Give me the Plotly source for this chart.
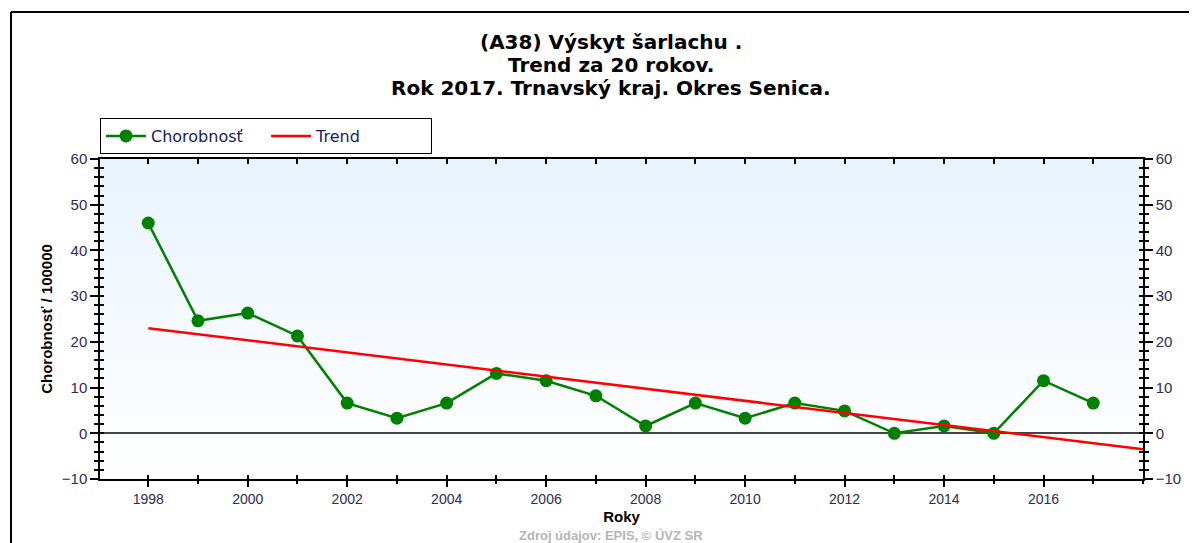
import plotly.graph_objects as go

# ---- data ----
years = list(range(1998, 2018))
chorobnost = [46.0, 24.6, 26.3, 21.3, 6.6, 3.3, 6.6, 13.1, 11.5, 8.2,
              1.6, 6.6, 3.3, 6.6, 4.9, 0.0, 1.6, 0.0, 11.5, 6.6]
trend_years = [1998, 2018]
trend_values = [23.0, -3.5]
x_ticks = list(range(1998, 2017, 2))
y_ticks = list(range(-10, 61, 10))

title_lines = ["(A38) Výskyt šarlachu .", "Trend za 20 rokov.",
               "Rok 2017. Trnavský kraj. Okres Senica."]

X_RANGE = [1997.03, 2018.0]
Y_RANGE = [-10, 60]

FONT = "Liberation Sans, Arial, sans-serif"
WIDE = "DejaVu Sans, Liberation Sans, sans-serif"
TICKCOL = "#2b2b55"

# reference-pixel helpers (plot area spans x 100..1143, y 159..479 on screen)
def px_x(px):
    return (px - 100) / 1043

def px_y(py):
    return 1 + (159 - py) / 320

fig = go.Figure()

fig.add_trace(go.Scatter(
    x=years, y=chorobnost, mode="lines+markers", name="Chorobnosť",
    line=dict(color="#008000", width=2.5),
    marker=dict(color="#008000", size=13, symbol="circle"),
    cliponaxis=False,
))
fig.add_trace(go.Scatter(
    x=trend_years, y=trend_values, mode="lines", name="Trend",
    line=dict(color="#ff0000", width=2.5),
))

# dummy traces so overlay axes get drawn
for xa, ya in [("x2", "y2"), ("x3", "y3"), ("x", "y4")]:
    fig.add_trace(go.Scatter(x=[None], y=[None], xaxis=xa, yaxis=ya,
                             showlegend=False, hoverinfo="skip"))

# gradient plot background
N = 40
shapes = []
for i in range(N):
    t = i / (N - 1)
    r = int(234 + (255 - 234) * t)
    g = int(244 + (255 - 244) * t)
    b = int(254 + (255 - 254) * t)
    shapes.append(dict(type="rect", xref="x domain", yref="y domain",
                       x0=0, x1=1, y0=1 - (i + 1) / N, y1=1 - i / N,
                       fillcolor=f"rgb({r},{g},{b})", line=dict(width=0),
                       layer="below"))
# outer frame (top and left edges; the rest lies outside the picture)
shapes.append(dict(type="line", xref="paper", yref="paper",
                   x0=px_x(11), x1=1.2, y0=px_y(12), y1=px_y(12),
                   line=dict(color="black", width=2)))
shapes.append(dict(type="line", xref="paper", yref="paper",
                   x0=px_x(11), x1=px_x(11), y0=px_y(12), y1=-0.5,
                   line=dict(color="black", width=2)))

common_y = dict(range=Y_RANGE, tickvals=y_ticks, showgrid=False,
                showline=True, linecolor="black", linewidth=1.5,
                tickcolor="black", tickwidth=1.5,
                tickfont=dict(family=FONT, size=15, color=TICKCOL))

fig.update_layout(
    width=1189, height=535,
    margin=dict(l=92, r=54, t=151, b=64),
    paper_bgcolor="white", plot_bgcolor="rgba(0,0,0,0)",
    shapes=shapes,
    showlegend=True,
    legend=dict(orientation="h", x=0, xanchor="left",
                y=px_y(154), yanchor="bottom",
                bordercolor="black", borderwidth=1, bgcolor="white",
                font=dict(family=WIDE, size=16, color="#1a1a5a"),
                entrywidth=110, entrywidthmode="pixels",
                itemwidth=40, tracegroupgap=0),
    xaxis=dict(range=X_RANGE, tickvals=x_ticks, showgrid=False, zeroline=False,
               showline=True, linecolor="black", linewidth=1.5,
               ticks="outside", ticklen=6, tickcolor="black", tickwidth=1.5,
               minor=dict(dtick=1, tick0=1998, ticks="outside", ticklen=3,
                          tickcolor="black", tickwidth=1.5),
               tickfont=dict(family=FONT, size=14, color=TICKCOL),
               title=dict(text="<b>Roky</b>", standoff=6,
                          font=dict(family=FONT, size=15, color="black"))),
    xaxis2=dict(range=X_RANGE, overlaying="x", side="bottom", showgrid=False,
                zeroline=False, showticklabels=False, showline=False,
                ticks="inside", tickvals=years, ticklen=4,
                tickcolor="black", tickwidth=1.5),
    xaxis3=dict(range=X_RANGE, overlaying="x", side="top", showgrid=False,
                zeroline=False, showticklabels=False, showline=True,
                linecolor="black", linewidth=1.5,
                ticks="inside", tickvals=years, ticklen=5,
                tickcolor="black", tickwidth=1.5),
    yaxis=dict(**common_y, side="left", zeroline=True, zerolinecolor="#444444",
               zerolinewidth=1.5, ticks="outside", ticklen=8,
               minor=dict(dtick=2, tick0=0, ticks="outside", ticklen=4,
                          tickcolor="black", tickwidth=1.5),
               title=dict(text="<b>Chorobnosť / 100000</b>", standoff=6,
                          font=dict(family=FONT, size=15, color="black"))),
    yaxis2=dict(range=Y_RANGE, overlaying="y", side="left", showgrid=False,
                zeroline=False, showticklabels=False, showline=False,
                ticks="inside", tickvals=y_ticks, ticklen=4,
                tickcolor="black", tickwidth=1.5,
                minor=dict(dtick=2, tick0=0, ticks="inside", ticklen=4,
                           tickcolor="black", tickwidth=1.5)),
    yaxis3=dict(**common_y, overlaying="y", side="right", zeroline=False,
                ticks="outside", ticklen=8,
                minor=dict(dtick=2, tick0=0, ticks="outside", ticklen=4,
                           tickcolor="black", tickwidth=1.5)),
    yaxis4=dict(range=Y_RANGE, overlaying="y", side="right", showgrid=False,
                zeroline=False, showticklabels=False, showline=False,
                ticks="inside", tickvals=y_ticks, ticklen=4,
                tickcolor="black", tickwidth=1.5,
                minor=dict(dtick=2, tick0=0, ticks="inside", ticklen=4,
                           tickcolor="black", tickwidth=1.5)),
)

# title lines
for i, line in enumerate(title_lines):
    fig.add_annotation(text=f"<b>{line}</b>", xref="paper", yref="paper",
                       x=px_x(611), y=px_y(42 + 23 * i),
                       xanchor="center", yanchor="middle", showarrow=False,
                       font=dict(family=WIDE, size=20, color="black"))

# source note
fig.add_annotation(text="<b>Zdroj údajov: EPIS, © ÚVZ SR</b>", xref="paper",
                   yref="paper", x=px_x(611), y=px_y(535),
                   xanchor="center", yanchor="middle", showarrow=False,
                   font=dict(family=FONT, size=13, color="#b5b5b5"))

fig.write_html("out.html")
